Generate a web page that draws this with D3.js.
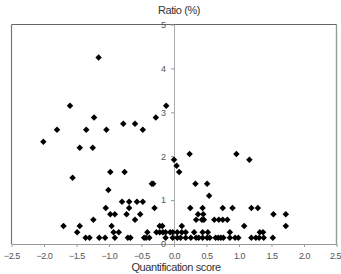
<!DOCTYPE html>
<html><head><meta charset="utf-8">
<script src="https://cdn.jsdelivr.net/npm/d3@7"></script>
<style>body{margin:0;background:#fff}svg{display:block}</style>
</head><body>
<script>
// Data: quantification score (x) and ratio % (y)
const xTicks = [-2.5,-2.0,-1.5,-1.0,-0.5,0.0,0.5,1.0,1.5,2.0,2.5];
const yTicks = [0,1,2,3,4,5];
const ptsX = [
 -1.16,
 -1.60,-0.12,
 -1.23,-0.28,
 -0.78,-0.60,
 -1.80,-1.35,-1.04,-0.48,
 -2.01,
 -1.45,-1.25,
 0.24,0.96,
 0.00,1.16,
 0.04,
 -0.98,-0.76,0.08,
 -1.56,
 -0.34,-0.32,0.33,0.51,
 -1.01,
 0.54,
 -0.80,-0.69,-0.57,-0.48,
 -1.05,-0.69,-0.30,0.25,0.44,0.75,0.90,1.19,1.29,
 -0.98,-0.91,-0.73,-0.52,0.37,0.45,1.53,1.72,
 -1.24,-0.60,0.34,0.43,0.46,0.62,0.69,0.75,0.82,
 -1.70,-1.45,-0.96,-0.22,-0.18,0.12,1.08,1.72,
 -1.49,-0.93,-0.85,-0.41,-0.27,-0.22,-0.17,-0.13,-0.06,-0.02,0.05,0.12,0.18,0.31,0.44,0.52,0.86,1.32,1.37,
 -1.36,-1.30,-1.15,-1.06,-0.91,-0.71,-0.67,-0.46,-0.43,-0.38,-0.13,-0.02,0.05,0.10,0.18,0.26,0.34,0.38,0.44,0.51,0.55,0.64,0.68,0.72,0.76,0.86,0.94,0.99,1.19,1.26,1.31,1.38,1.52
];
const ptsY = [
 4.25,
 3.15,3.15,
 2.88,2.88,
 2.74,2.74,
 2.60,2.60,2.60,2.60,
 2.33,
 2.19,2.19,
 2.05,2.05,
 1.92,1.92,
 1.78,
 1.64,1.64,1.64,
 1.51,
 1.37,1.37,1.37,1.37,
 1.23,
 1.10,
 0.96,0.96,0.96,0.96,
 0.82,0.82,0.82,0.82,0.82,0.82,0.82,0.82,0.82,
 0.68,0.68,0.68,0.68,0.68,0.68,0.68,0.68,
 0.55,0.55,0.55,0.55,0.55,0.55,0.55,0.55,0.55,
 0.41,0.41,0.41,0.41,0.41,0.41,0.41,0.41,
 0.27,0.27,0.27,0.27,0.27,0.27,0.27,0.27,0.27,0.27,0.27,0.27,0.27,0.27,0.27,0.27,0.27,0.27,0.27,
 0.14,0.14,0.14,0.14,0.14,0.14,0.14,0.14,0.14,0.14,0.14,0.14,0.14,0.14,0.14,0.14,0.14,0.14,0.14,0.14,0.14,0.14,0.14,0.14,0.14,0.14,0.14,0.14,0.14,0.14,0.14,0.14,0.14
];
const xTitle = "Quantification score";
const yTitle = "Ratio (%)";

const W = 341, H = 274;
const svg = d3.select("body").append("svg").attr("width", W).attr("height", H);
const x = d3.scaleLinear().domain([-2.5, 2.5]).range([11.5, 336.5]);
const y = d3.scaleLinear().domain([0, 5]).range([244, 24.5]);
const FF = "Liberation Sans, Arial, sans-serif";

// frame
svg.append("line").attr("x1", x(-2.5)).attr("x2", x(-2.5)).attr("y1", y(5)).attr("y2", y(0))
  .attr("stroke", "#777").attr("stroke-width", 1.2);
svg.append("line").attr("x1", x(2.5)).attr("x2", x(2.5)).attr("y1", y(5)).attr("y2", y(0))
  .attr("stroke", "#999").attr("stroke-width", 1.4);
svg.append("line").attr("x1", x(-2.5)).attr("x2", x(2.5)).attr("y1", y(5)).attr("y2", y(5))
  .attr("stroke", "#666").attr("stroke-width", 1.2);

// x axis
const xAxis = svg.append("g").attr("transform", `translate(0,${y(0)})`)
  .call(d3.axisBottom(x).tickValues(xTicks).tickFormat(d3.format(".1f")).tickSize(3).tickSizeOuter(0));
xAxis.select(".domain").attr("stroke", "#999").attr("stroke-width", 1.2);
xAxis.selectAll(".tick line").attr("stroke", "#999");
xAxis.selectAll("text").attr("fill", "#555").attr("font-size", 9)
  .attr("letter-spacing", -0.5)
  .attr("font-family", FF).attr("dy", "1.0em");
xAxis.selectAll(".tick").filter(d => d === 2.5).select("text")
  .attr("text-anchor", "end").attr("x", 4);

// y axis at x=0
const yAxis = svg.append("g").attr("transform", `translate(${x(0)},0)`)
  .call(d3.axisLeft(y).tickValues(yTicks).tickFormat(d3.format("d")).tickSize(3).tickSizeOuter(0));
yAxis.select(".domain").attr("stroke", "#aaa").attr("stroke-width", 1);
yAxis.selectAll(".tick line").attr("stroke", "#999");
yAxis.selectAll("text").attr("fill", "#555").attr("font-size", 9)
  .attr("font-family", FF).attr("x", -8);

// points
const sym = d3.symbol().type(d3.symbolSquare).size(21);
svg.append("g").selectAll("path").data(ptsX.map((v, i) => [v, ptsY[i]]))
  .join("path")
  .attr("d", sym)
  .attr("transform", d => `translate(${x(d[0])},${y(d[1])}) rotate(45)`)
  .attr("fill", "#000");

// titles
svg.append("text").attr("x", 179).attr("y", 14).attr("text-anchor", "middle")
  .attr("font-size", 11).attr("letter-spacing", -0.4).attr("fill", "#333")
  .attr("font-family", FF).text(yTitle);
svg.append("text").attr("x", 176).attr("y", 271).attr("text-anchor", "middle")
  .attr("font-size", 11).attr("letter-spacing", -0.4).attr("fill", "#333")
  .attr("font-family", FF).text(xTitle);
</script>
</body></html>
